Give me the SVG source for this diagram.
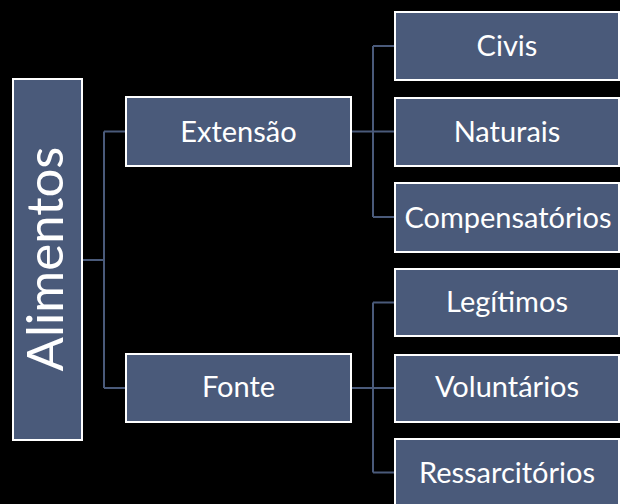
<svg xmlns="http://www.w3.org/2000/svg" width="620" height="504" viewBox="0 0 620 504">
<style>
.box{fill:#4a5a7a;stroke:#ffffff;stroke-width:2}
.lbl{font-family:Lato,"Liberation Sans",sans-serif;font-weight:400;font-size:29px;fill:#ffffff;text-anchor:middle}
.con{stroke:#4a5a7a;stroke-width:2;fill:none}
</style>
<rect width="620" height="504" fill="#000000"/>
<g id="connectors">
<path class="con" d="M82 260H104M104 131.5V388M104 131.5H126M104 388H126"/>
<path class="con" d="M351 131.5H395M373 46V217M373 46H395M373 217H395"/>
<path class="con" d="M351 388H395M373 302.5V472.5M373 302.5H395M373 472.5H395"/>
</g>
<g id="alimentos"><rect class="box" x="13" y="79" width="69" height="361"/><text class="lbl" style="font-size:51px" transform="translate(63,259) rotate(-90)">Alimentos</text></g>
<g id="extensao"><rect class="box" x="126" y="97" width="225" height="69"/><text class="lbl" x="238.5" y="142">Extensão</text></g>
<g id="fonte"><rect class="box" x="126" y="354" width="225" height="68"/><text class="lbl" x="238.5" y="397">Fonte</text></g>
<g id="civis"><rect class="box" x="395" y="12" width="224" height="68"/><text class="lbl" x="507" y="56">Civis</text></g>
<g id="naturais"><rect class="box" x="395" y="98" width="224" height="68"/><text class="lbl" x="507" y="142">Naturais</text></g>
<g id="compensatorios"><rect class="box" x="395" y="183" width="224" height="69"/><text class="lbl" x="508" y="228">Compensatórios</text></g>
<g id="legitimos"><rect class="box" x="395" y="269" width="224" height="67"/><text class="lbl" x="507" y="312">Legítimos</text></g>
<g id="voluntarios"><rect class="box" x="395" y="355" width="224" height="67"/><text class="lbl" x="507" y="397">Voluntários</text></g>
<g id="ressarcitorios"><rect class="box" x="395" y="439" width="224" height="70"/><text class="lbl" x="507" y="483">Ressarcitórios</text></g>
</svg>
